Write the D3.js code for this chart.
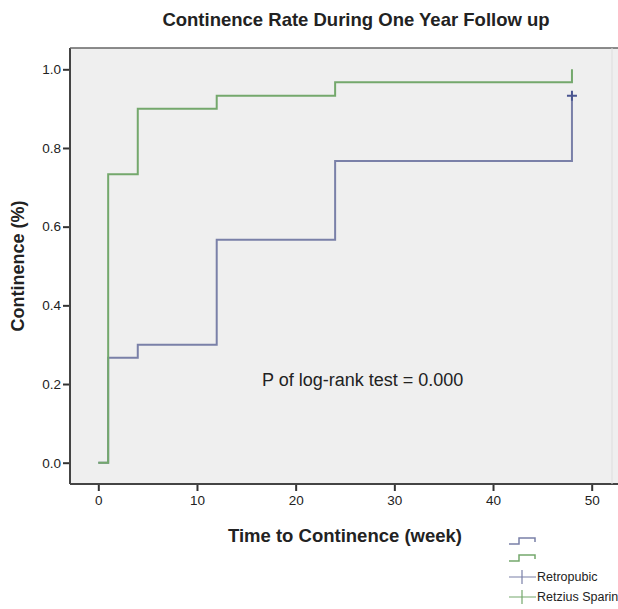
<!DOCTYPE html>
<html>
<head>
  <meta charset="utf-8">
  <title>Continence Rate During One Year Follow up</title>
  <script src="https://d3js.org/d3.v7.min.js"></script>
  <style>
    body {
      margin: 0;
      background: #fff;
    }
    text {
      font-family: "Liberation Sans", Arial, sans-serif;
      fill: #222;
    }
  </style>
</head>
<body>
  <div id="chart"></div>
  <script>
    // Kaplan-Meier step data (week, cumulative continence)
    var weeks = [0, 1, 4, 12, 24, 48];
    var retropubic = [0, 0.267, 0.3, 0.567, 0.767, 0.933];
    var retziusSparing = [0, 0.733, 0.9, 0.933, 0.967, 1.0];
    var groupNames = ["Retropubic", "Retzius Sparing"];
    var xTicks = [0, 10, 20, 30, 40, 50];
    var yTicks = [0.0, 0.2, 0.4, 0.6, 0.8, 1.0];

    var width = 618, height = 609;
    var blue = "#7a80a8";
    var green = "#74a86c";

    var svg = d3.select("#chart")
      .append("svg")
      .attr("width", width)
      .attr("height", height);

    // plot frame
    var frame = { left: 70, top: 48, right: 618, bottom: 484 };

    var x = d3.scaleLinear().domain([0, 50]).range([98.3, 591.7]);
    var y = d3.scaleLinear().domain([0, 1]).range([462.7, 69.3]);

    svg.append("rect")
      .attr("x", frame.left)
      .attr("y", frame.top)
      .attr("width", frame.right - frame.left)
      .attr("height", frame.bottom - frame.top)
      .attr("fill", "#efefef");

    // title
    svg.append("text")
      .attr("x", 356)
      .attr("y", 26)
      .attr("text-anchor", "middle")
      .style("font-size", "18.5px")
      .style("font-weight", "bold")
      .text("Continence Rate During One Year Follow up");

    // axes
    var xAxis = svg.append("g")
      .attr("transform", "translate(0," + frame.bottom + ")")
      .call(d3.axisBottom(x).tickValues(xTicks).tickSize(7).tickPadding(4).tickFormat(d3.format("d")));
    var yAxis = svg.append("g")
      .attr("transform", "translate(" + frame.left + ",0)")
      .call(d3.axisLeft(y).tickValues(yTicks).tickSize(7).tickPadding(2).tickFormat(d3.format(".1f")));

    [xAxis, yAxis].forEach(function(a) {
      a.select(".domain").remove();
      a.selectAll(".tick line").attr("stroke", "#333").attr("stroke-width", 2);
      a.selectAll(".tick text")
        .style("font-family", "'Liberation Sans', Arial, sans-serif")
        .style("font-size", "13.5px")
        .attr("fill", "#333");
    });

    // frame lines (left and bottom dark, top lighter)
    svg.append("line")
      .attr("x1", frame.left).attr("x2", frame.left)
      .attr("y1", frame.top).attr("y2", frame.bottom)
      .attr("stroke", "#444").attr("stroke-width", 2);
    svg.append("line")
      .attr("x1", frame.left).attr("x2", frame.right)
      .attr("y1", frame.bottom).attr("y2", frame.bottom)
      .attr("stroke", "#444").attr("stroke-width", 2);
    svg.append("line")
      .attr("x1", frame.left).attr("x2", frame.right)
      .attr("y1", frame.top).attr("y2", frame.top)
      .attr("stroke", "#666").attr("stroke-width", 1.5);
    svg.append("line")
      .attr("x1", 612).attr("x2", 612)
      .attr("y1", frame.top).attr("y2", frame.bottom)
      .attr("stroke", "#ddd").attr("stroke-width", 1);

    // step lines
    var step = d3.line()
      .x(function(d) { return x(d[0]); })
      .y(function(d) { return y(d[1]); })
      .curve(d3.curveStepAfter);

    function drawCurve(vals, color) {
      var pts = weeks.map(function(w, i) { return [w, vals[i]]; });
      svg.append("path")
        .datum(pts)
        .attr("fill", "none")
        .attr("stroke", color)
        .attr("stroke-width", 2)
        .attr("d", step);
    }

    drawCurve(retropubic, blue);
    drawCurve(retziusSparing, green);

    // censored mark at end of retropubic curve
    var cx = x(weeks[weeks.length - 1]);
    var cy = y(retropubic[retropubic.length - 1]);
    svg.append("path")
      .attr("d", "M" + (cx - 5) + "," + cy + "H" + (cx + 5) + "M" + cx + "," + (cy - 5) + "V" + (cy + 5))
      .attr("stroke", "#4a5590")
      .attr("stroke-width", 2);

    // p-value annotation
    svg.append("text")
      .attr("x", 262)
      .attr("y", 386)
      .style("font-size", "18px")
      .attr("fill", "#333")
      .text("P of log-rank test = 0.000");

    // axis titles
    svg.append("text")
      .attr("x", 345)
      .attr("y", 542)
      .attr("text-anchor", "middle")
      .style("font-size", "18.5px")
      .style("font-weight", "bold")
      .text("Time to Continence (week)");

    svg.append("text")
      .attr("transform", "translate(24,266) rotate(-90)")
      .attr("text-anchor", "middle")
      .style("font-size", "18px")
      .style("font-weight", "bold")
      .text("Continence (%)");

    // legend
    var colors = [blue, green];
    var leg = svg.append("g");
    colors.forEach(function(c, i) {
      var ly = 544 + i * 17;
      leg.append("path")
        .attr("d", "M509," + ly + "H519V" + (ly - 6) + "H535V" + (ly - 2))
        .attr("fill", "none")
        .attr("stroke", c)
        .attr("stroke-width", 1.5);
    });
    groupNames.forEach(function(name, i) {
      var ly = 577 + i * 20;
      leg.append("path")
        .attr("d", "M509," + ly + "H536M522," + (ly - 7) + "V" + (ly + 7))
        .attr("stroke", colors[i])
        .attr("stroke-width", 1.2);
      leg.append("text")
        .attr("x", 537)
        .attr("y", ly + 4)
        .style("font-size", "12.5px")
        .text(name);
    });
  </script>
</body>
</html>
